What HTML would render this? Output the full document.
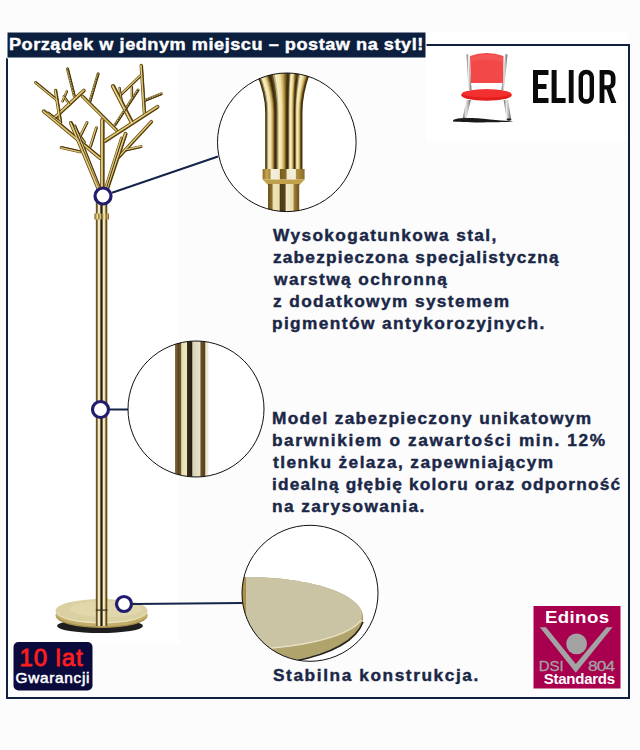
<!DOCTYPE html>
<html><head><meta charset="utf-8">
<style>
html,body{margin:0;padding:0;width:640px;height:750px;overflow:hidden;background:#fcfcfc;}
svg{position:absolute;left:0;top:0;display:block}
text{font-family:"Liberation Sans",sans-serif;}
</style></head>
<body>
<svg width="640" height="750" viewBox="0 0 640 750">
<defs>
 <linearGradient id="pole" x1="0" x2="1" y1="0" y2="0">
  <stop offset="0" stop-color="#8a7440"/>
  <stop offset="0.08" stop-color="#5e4a20"/>
  <stop offset="0.17" stop-color="#a89058"/>
  <stop offset="0.23" stop-color="#f2ead0"/>
  <stop offset="0.36" stop-color="#ece2b4"/>
  <stop offset="0.42" stop-color="#4a3c20"/>
  <stop offset="0.5" stop-color="#1e1810"/>
  <stop offset="0.57" stop-color="#6a5a38"/>
  <stop offset="0.64" stop-color="#f6f0d0"/>
  <stop offset="0.78" stop-color="#e8dcaa"/>
  <stop offset="0.86" stop-color="#7a5e28"/>
  <stop offset="0.94" stop-color="#5a4418"/>
  <stop offset="1" stop-color="#8a7440"/>
 </linearGradient>
 <linearGradient id="pole2" x1="0" x2="1" y1="0" y2="0">
  <stop offset="0" stop-color="#8a7240"/>
  <stop offset="0.1" stop-color="#5a4525"/>
  <stop offset="0.17" stop-color="#6a5530"/>
  <stop offset="0.2" stop-color="#e8e0b0"/>
  <stop offset="0.35" stop-color="#f0e8c0"/>
  <stop offset="0.37" stop-color="#3a2c18"/>
  <stop offset="0.5" stop-color="#251c10"/>
  <stop offset="0.53" stop-color="#d8d2b8"/>
  <stop offset="0.75" stop-color="#e8e2c8"/>
  <stop offset="0.77" stop-color="#6a5028"/>
  <stop offset="0.88" stop-color="#5a4020"/>
  <stop offset="0.92" stop-color="#e8e4d0"/>
  <stop offset="1" stop-color="#f4f0e0"/>
 </linearGradient>
 <linearGradient id="tube" x1="0" x2="1" y1="0" y2="0">
  <stop offset="0" stop-color="#6a5220"/>
  <stop offset="0.1" stop-color="#b89a48"/>
  <stop offset="0.2" stop-color="#f0e0a0"/>
  <stop offset="0.3" stop-color="#8a6e30"/>
  <stop offset="0.4" stop-color="#e8d890"/>
  <stop offset="0.5" stop-color="#5a4418"/>
  <stop offset="0.6" stop-color="#d8c078"/>
  <stop offset="0.7" stop-color="#f2e6b0"/>
  <stop offset="0.8" stop-color="#7a6028"/>
  <stop offset="0.9" stop-color="#c8ac60"/>
  <stop offset="1" stop-color="#6a5220"/>
 </linearGradient>
 <linearGradient id="bundle" x1="256" x2="311" y1="0" y2="0" gradientUnits="userSpaceOnUse">
  <stop offset="0" stop-color="#6a5020"/>
  <stop offset="0.176" stop-color="#5a4418"/>
  <stop offset="0.2" stop-color="#8a7030"/>
  <stop offset="0.23" stop-color="#f4ecc4"/>
  <stop offset="0.33" stop-color="#e8dcb0"/>
  <stop offset="0.35" stop-color="#3a2c10"/>
  <stop offset="0.4" stop-color="#4a3818"/>
  <stop offset="0.43" stop-color="#e8dca0"/>
  <stop offset="0.5" stop-color="#f6eec8"/>
  <stop offset="0.56" stop-color="#c8b070"/>
  <stop offset="0.59" stop-color="#4a3818"/>
  <stop offset="0.62" stop-color="#3a2c10"/>
  <stop offset="0.64" stop-color="#c8a850"/>
  <stop offset="0.69" stop-color="#b89840"/>
  <stop offset="0.71" stop-color="#4a3818"/>
  <stop offset="0.75" stop-color="#4a3818"/>
  <stop offset="0.77" stop-color="#f0e4b0"/>
  <stop offset="0.81" stop-color="#e0d0a0"/>
  <stop offset="0.83" stop-color="#6a5020"/>
  <stop offset="1" stop-color="#8a7030"/>
 </linearGradient>
 <linearGradient id="tubeg" x1="0" x2="1" y1="0" y2="0">
  <stop offset="0" stop-color="#2e2008"/>
  <stop offset="0.14" stop-color="#5a4414"/>
  <stop offset="0.32" stop-color="#f8f0c8"/>
  <stop offset="0.55" stop-color="#f0e2a8"/>
  <stop offset="0.74" stop-color="#c4a24a"/>
  <stop offset="0.9" stop-color="#5a4414"/>
  <stop offset="1" stop-color="#2e2008"/>
 </linearGradient>
 <linearGradient id="collar" x1="0" x2="1" y1="0" y2="0">
  <stop offset="0" stop-color="#8a6c28"/>
  <stop offset="0.1" stop-color="#c8a850"/>
  <stop offset="0.18" stop-color="#a88838"/>
  <stop offset="0.2" stop-color="#f4f0e0"/>
  <stop offset="0.4" stop-color="#f0ead0"/>
  <stop offset="0.42" stop-color="#7a5c20"/>
  <stop offset="0.56" stop-color="#8a6c28"/>
  <stop offset="0.58" stop-color="#f0ead0"/>
  <stop offset="0.78" stop-color="#f4f0e0"/>
  <stop offset="0.8" stop-color="#b09040"/>
  <stop offset="1" stop-color="#8a6c28"/>
 </linearGradient>
 <linearGradient id="lower" x1="0" x2="1" y1="0" y2="0">
  <stop offset="0" stop-color="#6a5020"/>
  <stop offset="0.12" stop-color="#8a7030"/>
  <stop offset="0.18" stop-color="#f0e6b8"/>
  <stop offset="0.36" stop-color="#e8dca8"/>
  <stop offset="0.39" stop-color="#4a3818"/>
  <stop offset="0.55" stop-color="#5a4418"/>
  <stop offset="0.58" stop-color="#f2ead0"/>
  <stop offset="0.8" stop-color="#e8dca8"/>
  <stop offset="0.84" stop-color="#a08030"/>
  <stop offset="1" stop-color="#6a5020"/>
 </linearGradient>
 <linearGradient id="chrome" x1="0" x2="1" y1="0" y2="0">
  <stop offset="0" stop-color="#6a6a6a"/>
  <stop offset="0.4" stop-color="#e8e8e8"/>
  <stop offset="0.7" stop-color="#b0b0b0"/>
  <stop offset="1" stop-color="#5a5a5a"/>
 </linearGradient>
 <clipPath id="c1"><circle cx="286.8" cy="142.3" r="69.3"/></clipPath>
 <clipPath id="c2"><circle cx="196" cy="409" r="68"/></clipPath>
 <clipPath id="c3"><circle cx="310" cy="593.3" r="68"/></clipPath>
</defs>

<!-- white regions -->
<rect x="8" y="57" width="171" height="586" fill="#ffffff"/>
<rect x="426" y="32" width="202" height="109" fill="#ffffff"/>

<!-- border -->
<path d="M420 45 H629 V698 H7 V57.5" fill="none" stroke="#0f2040" stroke-width="2"/>
<rect x="6.5" y="31.5" width="420" height="27" fill="#ffffff"/>
<!-- title bar -->
<rect x="7.5" y="32.5" width="418" height="25" fill="#0c1f3f"/>
<g font-size="16.5" font-weight="bold" fill="#ffffff" stroke="#ffffff" stroke-width="0.4"><text transform="translate(8.90,49.6) scale(1.1,1)" x="0" y="0" letter-spacing="0.484">Porządek w jednym miejscu – postaw na styl!</text></g>

<!-- stand -->
<g id="tree">
<line x1="35.6" y1="82.5" x2="56.9" y2="100" stroke="#6e5418" stroke-width="3.0" stroke-linecap="round"/>
<line x1="67.5" y1="68.8" x2="74.4" y2="96.3" stroke="#6e5418" stroke-width="3.0" stroke-linecap="round"/>
<line x1="98.1" y1="73.8" x2="90" y2="101.3" stroke="#6e5418" stroke-width="3.0" stroke-linecap="round"/>
<line x1="83.8" y1="90.6" x2="54.4" y2="118.1" stroke="#6e5418" stroke-width="4.0" stroke-linecap="round"/>
<line x1="82.5" y1="96.3" x2="116.3" y2="130" stroke="#6e5418" stroke-width="3.5" stroke-linecap="round"/>
<line x1="55.6" y1="90.6" x2="60.6" y2="122.5" stroke="#6e5418" stroke-width="3.5" stroke-linecap="round"/>
<line x1="66.9" y1="91.3" x2="62.5" y2="101.3" stroke="#6e5418" stroke-width="2.5" stroke-linecap="round"/>
<line x1="63.8" y1="96.3" x2="70" y2="105" stroke="#6e5418" stroke-width="2.5" stroke-linecap="round"/>
<line x1="43.8" y1="111.3" x2="100" y2="158" stroke="#6e5418" stroke-width="4.0" stroke-linecap="round"/>
<line x1="70.6" y1="122.6" x2="84.4" y2="142.3" stroke="#6e5418" stroke-width="3.0" stroke-linecap="round"/>
<line x1="87" y1="122.6" x2="78.4" y2="139.8" stroke="#6e5418" stroke-width="3.0" stroke-linecap="round"/>
<line x1="96.4" y1="127.7" x2="90.4" y2="146.6" stroke="#6e5418" stroke-width="3.0" stroke-linecap="round"/>
<line x1="141.3" y1="65.6" x2="144.4" y2="112.5" stroke="#6e5418" stroke-width="3.5" stroke-linecap="round"/>
<line x1="140.6" y1="75.6" x2="120.6" y2="95" stroke="#6e5418" stroke-width="3.0" stroke-linecap="round"/>
<line x1="113.1" y1="86.3" x2="131.9" y2="122.5" stroke="#6e5418" stroke-width="4.5" stroke-linecap="round"/>
<line x1="138.1" y1="90" x2="115" y2="125" stroke="#6e5418" stroke-width="3.0" stroke-linecap="round"/>
<line x1="131.9" y1="86.9" x2="131.9" y2="96.3" stroke="#6e5418" stroke-width="2.5" stroke-linecap="round"/>
<line x1="161.3" y1="93.8" x2="144.4" y2="100.6" stroke="#6e5418" stroke-width="3.0" stroke-linecap="round"/>
<line x1="157.5" y1="106.9" x2="105" y2="141" stroke="#6e5418" stroke-width="4.0" stroke-linecap="round"/>
<line x1="151.4" y1="121.7" x2="118.8" y2="157" stroke="#6e5418" stroke-width="3.5" stroke-linecap="round"/>
<line x1="61.2" y1="147.5" x2="80" y2="151.8" stroke="#6e5418" stroke-width="3.0" stroke-linecap="round"/>
<line x1="141" y1="146.6" x2="125.6" y2="150" stroke="#6e5418" stroke-width="3.0" stroke-linecap="round"/>
<line x1="71" y1="123" x2="99" y2="190" stroke="#6e5418" stroke-width="4.0" stroke-linecap="round"/>
<line x1="125.6" y1="133.8" x2="106.7" y2="190" stroke="#6e5418" stroke-width="4.0" stroke-linecap="round"/>
<line x1="102.4" y1="120" x2="102.4" y2="200" stroke="#6e5418" stroke-width="4.5" stroke-linecap="round"/>
<line x1="75" y1="126" x2="100.5" y2="190" stroke="#6e5418" stroke-width="3.0" stroke-linecap="round"/>
<line x1="121.5" y1="138" x2="105" y2="190" stroke="#6e5418" stroke-width="3.0" stroke-linecap="round"/>
<line x1="119.5" y1="88" x2="121.5" y2="100" stroke="#6e5418" stroke-width="2.3" stroke-linecap="round"/>
<line x1="48" y1="113" x2="60" y2="122" stroke="#6e5418" stroke-width="3.0" stroke-linecap="round"/>
<line x1="35.6" y1="82.5" x2="56.9" y2="100" stroke="#c8a84e" stroke-width="1.5" stroke-linecap="round"/>
<line x1="67.5" y1="68.8" x2="74.4" y2="96.3" stroke="#c8a84e" stroke-width="1.5" stroke-linecap="round"/>
<line x1="98.1" y1="73.8" x2="90" y2="101.3" stroke="#c8a84e" stroke-width="1.5" stroke-linecap="round"/>
<line x1="83.8" y1="90.6" x2="54.4" y2="118.1" stroke="#c8a84e" stroke-width="2.1" stroke-linecap="round"/>
<line x1="82.5" y1="96.3" x2="116.3" y2="130" stroke="#c8a84e" stroke-width="1.8" stroke-linecap="round"/>
<line x1="55.6" y1="90.6" x2="60.6" y2="122.5" stroke="#c8a84e" stroke-width="1.8" stroke-linecap="round"/>
<line x1="66.9" y1="91.3" x2="62.5" y2="101.3" stroke="#c8a84e" stroke-width="1.2" stroke-linecap="round"/>
<line x1="63.8" y1="96.3" x2="70" y2="105" stroke="#c8a84e" stroke-width="1.2" stroke-linecap="round"/>
<line x1="43.8" y1="111.3" x2="100" y2="158" stroke="#c8a84e" stroke-width="2.1" stroke-linecap="round"/>
<line x1="70.6" y1="122.6" x2="84.4" y2="142.3" stroke="#c8a84e" stroke-width="1.5" stroke-linecap="round"/>
<line x1="87" y1="122.6" x2="78.4" y2="139.8" stroke="#c8a84e" stroke-width="1.5" stroke-linecap="round"/>
<line x1="96.4" y1="127.7" x2="90.4" y2="146.6" stroke="#c8a84e" stroke-width="1.5" stroke-linecap="round"/>
<line x1="141.3" y1="65.6" x2="144.4" y2="112.5" stroke="#c8a84e" stroke-width="1.8" stroke-linecap="round"/>
<line x1="140.6" y1="75.6" x2="120.6" y2="95" stroke="#c8a84e" stroke-width="1.5" stroke-linecap="round"/>
<line x1="113.1" y1="86.3" x2="131.9" y2="122.5" stroke="#c8a84e" stroke-width="2.4" stroke-linecap="round"/>
<line x1="138.1" y1="90" x2="115" y2="125" stroke="#c8a84e" stroke-width="1.5" stroke-linecap="round"/>
<line x1="131.9" y1="86.9" x2="131.9" y2="96.3" stroke="#c8a84e" stroke-width="1.2" stroke-linecap="round"/>
<line x1="161.3" y1="93.8" x2="144.4" y2="100.6" stroke="#c8a84e" stroke-width="1.5" stroke-linecap="round"/>
<line x1="157.5" y1="106.9" x2="105" y2="141" stroke="#c8a84e" stroke-width="2.1" stroke-linecap="round"/>
<line x1="151.4" y1="121.7" x2="118.8" y2="157" stroke="#c8a84e" stroke-width="1.8" stroke-linecap="round"/>
<line x1="61.2" y1="147.5" x2="80" y2="151.8" stroke="#c8a84e" stroke-width="1.5" stroke-linecap="round"/>
<line x1="141" y1="146.6" x2="125.6" y2="150" stroke="#c8a84e" stroke-width="1.5" stroke-linecap="round"/>
<line x1="71" y1="123" x2="99" y2="190" stroke="#c8a84e" stroke-width="2.1" stroke-linecap="round"/>
<line x1="125.6" y1="133.8" x2="106.7" y2="190" stroke="#c8a84e" stroke-width="2.1" stroke-linecap="round"/>
<line x1="102.4" y1="120" x2="102.4" y2="200" stroke="#c8a84e" stroke-width="2.4" stroke-linecap="round"/>
<line x1="75" y1="126" x2="100.5" y2="190" stroke="#c8a84e" stroke-width="1.5" stroke-linecap="round"/>
<line x1="121.5" y1="138" x2="105" y2="190" stroke="#c8a84e" stroke-width="1.5" stroke-linecap="round"/>
<line x1="119.5" y1="88" x2="121.5" y2="100" stroke="#c8a84e" stroke-width="1.1" stroke-linecap="round"/>
<line x1="48" y1="113" x2="60" y2="122" stroke="#c8a84e" stroke-width="1.5" stroke-linecap="round"/>
<line x1="36.1" y1="81.9" x2="57.4" y2="99.4" stroke="#3e2e0c" stroke-width="0.9" stroke-linecap="round"/>
<line x1="35.4" y1="82.7" x2="56.7" y2="100.2" stroke="#f2e2a4" stroke-width="0.6" stroke-linecap="round"/>
<line x1="68.3" y1="68.6" x2="75.2" y2="96.1" stroke="#3e2e0c" stroke-width="0.9" stroke-linecap="round"/>
<line x1="67.2" y1="68.9" x2="74.1" y2="96.4" stroke="#f2e2a4" stroke-width="0.6" stroke-linecap="round"/>
<line x1="98.9" y1="74.0" x2="90.8" y2="101.5" stroke="#3e2e0c" stroke-width="0.9" stroke-linecap="round"/>
<line x1="97.8" y1="73.7" x2="89.7" y2="101.2" stroke="#f2e2a4" stroke-width="0.6" stroke-linecap="round"/>
<line x1="84.6" y1="91.4" x2="55.2" y2="118.9" stroke="#3e2e0c" stroke-width="0.9" stroke-linecap="round"/>
<line x1="83.5" y1="90.3" x2="54.1" y2="117.8" stroke="#f2e2a4" stroke-width="0.8" stroke-linecap="round"/>
<line x1="83.2" y1="95.6" x2="117.0" y2="129.3" stroke="#3e2e0c" stroke-width="0.9" stroke-linecap="round"/>
<line x1="82.2" y1="96.6" x2="116.0" y2="130.3" stroke="#f2e2a4" stroke-width="0.7" stroke-linecap="round"/>
<line x1="56.5" y1="90.5" x2="61.5" y2="122.4" stroke="#3e2e0c" stroke-width="0.9" stroke-linecap="round"/>
<line x1="55.2" y1="90.7" x2="60.2" y2="122.6" stroke="#f2e2a4" stroke-width="0.7" stroke-linecap="round"/>
<line x1="67.5" y1="91.6" x2="63.1" y2="101.6" stroke="#3e2e0c" stroke-width="0.9" stroke-linecap="round"/>
<line x1="66.7" y1="91.2" x2="62.3" y2="101.2" stroke="#f2e2a4" stroke-width="0.5" stroke-linecap="round"/>
<line x1="64.3" y1="95.9" x2="70.5" y2="104.6" stroke="#3e2e0c" stroke-width="0.9" stroke-linecap="round"/>
<line x1="63.6" y1="96.4" x2="69.8" y2="105.1" stroke="#f2e2a4" stroke-width="0.5" stroke-linecap="round"/>
<line x1="44.5" y1="110.4" x2="100.7" y2="157.1" stroke="#3e2e0c" stroke-width="0.9" stroke-linecap="round"/>
<line x1="43.5" y1="111.6" x2="99.7" y2="158.3" stroke="#f2e2a4" stroke-width="0.8" stroke-linecap="round"/>
<line x1="71.3" y1="122.1" x2="85.1" y2="141.8" stroke="#3e2e0c" stroke-width="0.9" stroke-linecap="round"/>
<line x1="70.4" y1="122.8" x2="84.2" y2="142.5" stroke="#f2e2a4" stroke-width="0.6" stroke-linecap="round"/>
<line x1="87.7" y1="123.0" x2="79.1" y2="140.2" stroke="#3e2e0c" stroke-width="0.9" stroke-linecap="round"/>
<line x1="86.7" y1="122.5" x2="78.1" y2="139.7" stroke="#f2e2a4" stroke-width="0.6" stroke-linecap="round"/>
<line x1="97.2" y1="127.9" x2="91.2" y2="146.8" stroke="#3e2e0c" stroke-width="0.9" stroke-linecap="round"/>
<line x1="96.1" y1="127.6" x2="90.1" y2="146.5" stroke="#f2e2a4" stroke-width="0.6" stroke-linecap="round"/>
<line x1="142.3" y1="65.5" x2="145.4" y2="112.4" stroke="#3e2e0c" stroke-width="0.9" stroke-linecap="round"/>
<line x1="140.9" y1="65.6" x2="144.0" y2="112.5" stroke="#f2e2a4" stroke-width="0.7" stroke-linecap="round"/>
<line x1="141.2" y1="76.2" x2="121.2" y2="95.6" stroke="#3e2e0c" stroke-width="0.9" stroke-linecap="round"/>
<line x1="140.4" y1="75.4" x2="120.4" y2="94.8" stroke="#f2e2a4" stroke-width="0.6" stroke-linecap="round"/>
<line x1="114.2" y1="85.7" x2="133.0" y2="121.9" stroke="#3e2e0c" stroke-width="0.9" stroke-linecap="round"/>
<line x1="112.7" y1="86.5" x2="131.5" y2="122.7" stroke="#f2e2a4" stroke-width="1.0" stroke-linecap="round"/>
<line x1="138.8" y1="90.4" x2="115.7" y2="125.4" stroke="#3e2e0c" stroke-width="0.9" stroke-linecap="round"/>
<line x1="137.8" y1="89.8" x2="114.7" y2="124.8" stroke="#f2e2a4" stroke-width="0.6" stroke-linecap="round"/>
<line x1="132.5" y1="86.9" x2="132.5" y2="96.3" stroke="#3e2e0c" stroke-width="0.9" stroke-linecap="round"/>
<line x1="131.7" y1="86.9" x2="131.7" y2="96.3" stroke="#f2e2a4" stroke-width="0.5" stroke-linecap="round"/>
<line x1="161.6" y1="94.5" x2="144.7" y2="101.3" stroke="#3e2e0c" stroke-width="0.9" stroke-linecap="round"/>
<line x1="161.2" y1="93.5" x2="144.3" y2="100.3" stroke="#f2e2a4" stroke-width="0.6" stroke-linecap="round"/>
<line x1="158.1" y1="107.8" x2="105.6" y2="141.9" stroke="#3e2e0c" stroke-width="0.9" stroke-linecap="round"/>
<line x1="157.3" y1="106.5" x2="104.8" y2="140.6" stroke="#f2e2a4" stroke-width="0.8" stroke-linecap="round"/>
<line x1="152.1" y1="122.4" x2="119.5" y2="157.7" stroke="#3e2e0c" stroke-width="0.9" stroke-linecap="round"/>
<line x1="151.1" y1="121.5" x2="118.5" y2="156.8" stroke="#f2e2a4" stroke-width="0.7" stroke-linecap="round"/>
<line x1="61.4" y1="146.7" x2="80.2" y2="151.0" stroke="#3e2e0c" stroke-width="0.9" stroke-linecap="round"/>
<line x1="61.1" y1="147.8" x2="79.9" y2="152.1" stroke="#f2e2a4" stroke-width="0.6" stroke-linecap="round"/>
<line x1="141.2" y1="147.4" x2="125.8" y2="150.8" stroke="#3e2e0c" stroke-width="0.9" stroke-linecap="round"/>
<line x1="140.9" y1="146.3" x2="125.5" y2="149.7" stroke="#f2e2a4" stroke-width="0.6" stroke-linecap="round"/>
<line x1="72.0" y1="122.6" x2="100.0" y2="189.6" stroke="#3e2e0c" stroke-width="0.9" stroke-linecap="round"/>
<line x1="70.6" y1="123.2" x2="98.6" y2="190.2" stroke="#f2e2a4" stroke-width="0.8" stroke-linecap="round"/>
<line x1="126.7" y1="134.2" x2="107.8" y2="190.4" stroke="#3e2e0c" stroke-width="0.9" stroke-linecap="round"/>
<line x1="125.2" y1="133.7" x2="106.3" y2="189.9" stroke="#f2e2a4" stroke-width="0.8" stroke-linecap="round"/>
<line x1="103.7" y1="120.0" x2="103.7" y2="200.0" stroke="#3e2e0c" stroke-width="0.9" stroke-linecap="round"/>
<line x1="101.9" y1="120.0" x2="101.9" y2="200.0" stroke="#f2e2a4" stroke-width="1.0" stroke-linecap="round"/>
<line x1="75.7" y1="125.7" x2="101.2" y2="189.7" stroke="#3e2e0c" stroke-width="0.9" stroke-linecap="round"/>
<line x1="74.7" y1="126.1" x2="100.2" y2="190.1" stroke="#f2e2a4" stroke-width="0.6" stroke-linecap="round"/>
<line x1="122.3" y1="138.2" x2="105.8" y2="190.2" stroke="#3e2e0c" stroke-width="0.9" stroke-linecap="round"/>
<line x1="121.2" y1="137.9" x2="104.7" y2="189.9" stroke="#f2e2a4" stroke-width="0.6" stroke-linecap="round"/>
<line x1="120.1" y1="87.9" x2="122.1" y2="99.9" stroke="#3e2e0c" stroke-width="0.9" stroke-linecap="round"/>
<line x1="119.3" y1="88.0" x2="121.3" y2="100.0" stroke="#f2e2a4" stroke-width="0.4" stroke-linecap="round"/>
<line x1="48.5" y1="112.4" x2="60.5" y2="121.4" stroke="#3e2e0c" stroke-width="0.9" stroke-linecap="round"/>
<line x1="47.8" y1="113.2" x2="59.8" y2="122.2" stroke="#f2e2a4" stroke-width="0.6" stroke-linecap="round"/>
<line x1="67.5" y1="68.8" x2="74.4" y2="96.3" stroke="#3e3010" stroke-width="1.4" stroke-dasharray="1.5 1" stroke-linecap="butt" opacity="0.8"/>
<line x1="98.1" y1="73.8" x2="90" y2="101.3" stroke="#3e3010" stroke-width="1.4" stroke-dasharray="1.5 1" stroke-linecap="butt" opacity="0.8"/>
<line x1="138.1" y1="90" x2="115" y2="125" stroke="#3e3010" stroke-width="1.4" stroke-dasharray="1.5 1" stroke-linecap="butt" opacity="0.8"/>
<line x1="161.3" y1="93.8" x2="144.4" y2="100.6" stroke="#3e3010" stroke-width="1.4" stroke-dasharray="1.5 1" stroke-linecap="butt" opacity="0.8"/>
</g>
<!-- pole -->
<rect x="95.8" y="200" width="11.6" height="420" fill="url(#pole)"/>
<rect x="94.5" y="213.5" width="14.5" height="6" fill="url(#tube)"/>

<!-- base -->
<ellipse cx="100" cy="626" rx="43" ry="7" fill="#1e1e1e"/>
<ellipse cx="101.6" cy="616" rx="46" ry="12" fill="#a8904e"/>
<ellipse cx="101.6" cy="614.5" rx="46" ry="12" fill="#c4ae6c"/>
<ellipse cx="101.6" cy="611.6" rx="46" ry="11.8" fill="#ece4bc"/>
<ellipse cx="101.6" cy="610.5" rx="46" ry="11.5" fill="#dad0a2"/>
<ellipse cx="106" cy="609" rx="36" ry="8" fill="#e0d7ac"/>
<rect x="95.8" y="598" width="11.6" height="28" fill="url(#pole)"/>
<rect x="95.8" y="609.5" width="11.6" height="1.2" fill="#3a3018"/>
<!-- connection lines -->
<g stroke="#13254a" stroke-width="2">
 <line x1="112" y1="192.7" x2="218" y2="156.5"/>
 <line x1="109" y1="409.5" x2="128" y2="409.5"/>
 <line x1="133" y1="604" x2="243" y2="603"/>
</g>
<!-- markers -->
<g fill="#ffffff" stroke="#221c6e" stroke-width="3.2">
 <circle cx="103" cy="196" r="8"/>
 <circle cx="100.5" cy="409.5" r="8"/>
 <circle cx="124" cy="604" r="7.5"/>
</g>

<!-- circle 1 -->
<g clip-path="url(#c1)">
 <rect x="210" y="70" width="160" height="150" fill="#ffffff"/>
 <path d="M255.65 70 C262.90 86 266.00 98 266.00 112 L266.00 172" fill="none" stroke="#3e2d0c" stroke-width="1.60"/>
 <path d="M256.95 70 C264.00 86 267.01 98 267.01 112 L267.01 172" fill="none" stroke="#634e1e" stroke-width="1.60"/>
 <path d="M258.25 70 C265.09 86 268.02 98 268.02 112 L268.02 172" fill="none" stroke="#bbad82" stroke-width="1.60"/>
 <path d="M259.55 70 C266.19 86 269.04 98 269.04 112 L269.04 172" fill="none" stroke="#f7eec4" stroke-width="1.60"/>
 <path d="M260.85 70 C267.29 86 270.05 98 270.05 112 L270.05 172" fill="none" stroke="#f3e8b6" stroke-width="1.60"/>
 <path d="M262.15 70 C268.38 86 271.06 98 271.06 112 L271.06 172" fill="none" stroke="#f0e2a8" stroke-width="1.60"/>
 <path d="M263.45 70 C269.48 86 272.06 98 272.06 112 L272.06 172" fill="none" stroke="#d9c077" stroke-width="1.60"/>
 <path d="M264.75 70 C270.58 86 273.08 98 273.08 112 L273.08 172" fill="none" stroke="#bd9c47" stroke-width="1.60"/>
 <path d="M266.05 70 C271.67 86 274.09 98 274.09 112 L274.09 172" fill="none" stroke="#7b6125" stroke-width="1.60"/>
 <path d="M267.35 70 C272.77 86 275.10 98 275.10 112 L275.10 172" fill="none" stroke="#44320e" stroke-width="1.60"/>
 <path d="M269.02 70 C273.92 86 276.02 98 276.02 112 L276.02 172" fill="none" stroke="#3e2d0c" stroke-width="2.35"/>
 <path d="M271.07 70 C275.40 86 277.26 98 277.26 112 L277.26 172" fill="none" stroke="#634e1e" stroke-width="2.35"/>
 <path d="M273.12 70 C276.89 86 278.50 98 278.50 112 L278.50 172" fill="none" stroke="#bbad82" stroke-width="2.35"/>
 <path d="M275.18 70 C278.37 86 279.74 98 279.74 112 L279.74 172" fill="none" stroke="#f7eec4" stroke-width="2.35"/>
 <path d="M277.23 70 C279.85 86 280.98 98 280.98 112 L280.98 172" fill="none" stroke="#f3e8b6" stroke-width="2.35"/>
 <path d="M279.27 70 C281.34 86 282.22 98 282.22 112 L282.22 172" fill="none" stroke="#f0e2a8" stroke-width="2.35"/>
 <path d="M281.32 70 C282.82 86 283.46 98 283.46 112 L283.46 172" fill="none" stroke="#d9c077" stroke-width="2.35"/>
 <path d="M283.38 70 C284.30 86 284.70 98 284.70 112 L284.70 172" fill="none" stroke="#bd9c47" stroke-width="2.35"/>
 <path d="M285.43 70 C285.79 86 285.94 98 285.94 112 L285.94 172" fill="none" stroke="#7b6125" stroke-width="2.35"/>
 <path d="M287.48 70 C287.27 86 287.18 98 287.18 112 L287.18 172" fill="none" stroke="#44320e" stroke-width="2.35"/>
 <path d="M288.93 70 C288.25 86 287.96 98 287.96 112 L287.96 172" fill="none" stroke="#3e2d0c" stroke-width="1.15"/>
 <path d="M289.77 70 C289.01 86 288.68 98 288.68 112 L288.68 172" fill="none" stroke="#634e1e" stroke-width="1.15"/>
 <path d="M290.62 70 C289.77 86 289.40 98 289.40 112 L289.40 172" fill="none" stroke="#bbad82" stroke-width="1.15"/>
 <path d="M291.48 70 C290.53 86 290.12 98 290.12 112 L290.12 172" fill="none" stroke="#f7eec4" stroke-width="1.15"/>
 <path d="M292.32 70 C291.29 86 290.84 98 290.84 112 L290.84 172" fill="none" stroke="#f3e8b6" stroke-width="1.15"/>
 <path d="M293.18 70 C292.04 86 291.56 98 291.56 112 L291.56 172" fill="none" stroke="#f0e2a8" stroke-width="1.15"/>
 <path d="M294.02 70 C292.80 86 292.28 98 292.28 112 L292.28 172" fill="none" stroke="#d9c077" stroke-width="1.15"/>
 <path d="M294.88 70 C293.56 86 293.00 98 293.00 112 L293.00 172" fill="none" stroke="#bd9c47" stroke-width="1.15"/>
 <path d="M295.73 70 C294.32 86 293.72 98 293.72 112 L293.72 172" fill="none" stroke="#7b6125" stroke-width="1.15"/>
 <path d="M296.57 70 C295.08 86 294.44 98 294.44 112 L294.44 172" fill="none" stroke="#44320e" stroke-width="1.15"/>
 <path d="M297.70 70 C295.86 86 295.06 98 295.06 112 L295.06 172" fill="none" stroke="#3e2d0c" stroke-width="1.70"/>
 <path d="M299.10 70 C296.79 86 295.80 98 295.80 112 L295.80 172" fill="none" stroke="#634e1e" stroke-width="1.70"/>
 <path d="M300.50 70 C297.72 86 296.52 98 296.52 112 L296.52 172" fill="none" stroke="#bbad82" stroke-width="1.70"/>
 <path d="M301.90 70 C298.65 86 297.25 98 297.25 112 L297.25 172" fill="none" stroke="#f7eec4" stroke-width="1.70"/>
 <path d="M303.30 70 C299.58 86 297.99 98 297.99 112 L297.99 172" fill="none" stroke="#f3e8b6" stroke-width="1.70"/>
 <path d="M304.70 70 C300.51 86 298.71 98 298.71 112 L298.71 172" fill="none" stroke="#f0e2a8" stroke-width="1.70"/>
 <path d="M306.10 70 C301.44 86 299.44 98 299.44 112 L299.44 172" fill="none" stroke="#d9c077" stroke-width="1.70"/>
 <path d="M307.50 70 C302.37 86 300.18 98 300.18 112 L300.18 172" fill="none" stroke="#bd9c47" stroke-width="1.70"/>
 <path d="M308.90 70 C303.30 86 300.90 98 300.90 112 L300.90 172" fill="none" stroke="#7b6125" stroke-width="1.70"/>
 <path d="M310.30 70 C304.23 86 301.63 98 301.63 112 L301.63 172" fill="none" stroke="#44320e" stroke-width="1.70"/>
 <rect x="262.6" y="169" width="42" height="10.5" fill="url(#collar)"/>
 <path d="M262.6 179.5 L304.7 179.5 L299.5 185 L268 185 Z" fill="#c0a048"/>
 <rect x="268" y="184" width="31.2" height="40" fill="url(#lower)"/>
</g>
<circle cx="286.8" cy="142.3" r="69.3" fill="none" stroke="#111" stroke-width="1"/>

<!-- circle 2 -->
<g clip-path="url(#c2)">
 <rect x="120" y="335" width="150" height="150" fill="#ffffff"/>
 <rect x="175" y="335" width="33.5" height="150" fill="url(#pole2)"/>
</g>
<circle cx="196" cy="409" r="68" fill="none" stroke="#111" stroke-width="1"/>

<!-- circle 3 -->
<g clip-path="url(#c3)">
 <rect x="235" y="520" width="150" height="150" fill="#ffffff"/>
 <path d="M236 577 C280 576 325 583 348 597 C360 605 364 612 363 620 C358 640 330 653 295 660 L236 670 Z" fill="#b1a36c"/>
 <path d="M363 622 C356 641 330 654 295 661 L236 671" fill="none" stroke="#2a2418" stroke-width="1.6"/>
 <path d="M236 577 C280 576 325 583 348 597 C360 605 364 613 361 620 C352 632 325 641 290 646 L236 652 Z" fill="#cac3a4"/>
 <path d="M361.5 620 C352 632 325 641 290 646 L236 652" fill="none" stroke="#e6dfc0" stroke-width="1.4"/>
 <rect x="241" y="577" width="5" height="80" fill="#a89048"/>
</g>
<circle cx="310" cy="593.3" r="68" fill="none" stroke="#111" stroke-width="1"/>

<!-- body text -->
<g font-size="16" font-weight="bold" fill="#1a2747" stroke="#1a2747" stroke-width="0.4">
<text transform="translate(273.00,240.5) scale(1.08,1)" x="0" y="0" letter-spacing="1.292">Wysokogatunkowa stal,</text>
<text transform="translate(273.00,262.5) scale(1.08,1)" x="0" y="0" letter-spacing="1.101">zabezpieczona specjalistyczną</text>
<text transform="translate(274.08,284.5) scale(1.08,1)" x="0" y="0" letter-spacing="1.302">warstwą ochronną</text>
<text transform="translate(273.00,306.5) scale(1.08,1)" x="0" y="0" letter-spacing="1.290">z dodatkowym systemem</text>
<text transform="translate(271.92,328.5) scale(1.08,1)" x="0" y="0" letter-spacing="1.311">pigmentów antykorozyjnych.</text>
<text transform="translate(271.92,423.5) scale(1.08,1)" x="0" y="0" letter-spacing="1.244">Model zabezpieczony unikatowym</text>
<text transform="translate(271.92,445.5) scale(1.08,1)" x="0" y="0" letter-spacing="1.494">barwnikiem o zawartości min. 12%</text>
<text transform="translate(273.00,467.5) scale(1.08,1)" x="0" y="0" letter-spacing="1.311">tlenku żelaza, zapewniającym</text>
<text transform="translate(271.92,489.5) scale(1.08,1)" x="0" y="0" letter-spacing="1.116">idealną głębię koloru oraz odporność</text>
<text transform="translate(271.92,511.5) scale(1.08,1)" x="0" y="0" letter-spacing="1.324">na zarysowania.</text>
<text transform="translate(273.00,680.5) scale(1.08,1)" x="0" y="0" letter-spacing="1.466">Stabilna konstrukcja.</text>
</g>

<!-- logo -->
<g id="logo">
 <path d="M453 120.5 C456 117.5 470 117.5 490 119.5 C500 120.5 508 121 514 121.5 C505 122.5 470 123 453 121.5 Z" fill="#1a1a1a"/>
 <path d="M466.5 54.5 L469 54 L471.5 90 L468.5 90 Z" fill="url(#chrome)"/>
 <path d="M505 54 L507.5 54.5 L504 90 L501.5 90 Z" fill="url(#chrome)"/>
 <path d="M470 56 Q486.5 50 503.5 56 L503 83 L471 83 Z" fill="#f24848"/>
 <path d="M471 57 Q486.5 51.5 503 57 L503 62 Q486.5 57 471 62 Z" fill="#f35454"/>
 <path d="M466.4 100 L470.8 100 L466.4 118.5 L462.6 118.5 Z" fill="url(#chrome)"/>
 <path d="M503.6 100 L508 100 L511 118.5 L506.5 118.5 Z" fill="url(#chrome)"/>
 <ellipse cx="464.5" cy="119" rx="2.5" ry="1.2" fill="#222"/>
 <ellipse cx="509" cy="119.5" rx="2.5" ry="1.2" fill="#222"/>
 <ellipse cx="486.5" cy="95" rx="25.3" ry="5.8" fill="#e41c1c"/>
 <ellipse cx="486.5" cy="93.5" rx="24.5" ry="4" fill="#f23030"/>
 <g fill="#0a0a0a">
  <path d="M533 70 H548.5 V75 H538 V84 H546.5 V89 H538 V98 H548.5 V103 H533 Z"/>
  <path d="M551.6 70 H556.6 V98 H565.6 V103 H551.6 Z"/>
  <rect x="568.8" y="70" width="4.8" height="33"/>
  <path fill-rule="evenodd" d="M586.3 69.7 C590.8 69.7 594 73 594 77.5 V95.9 C594 100.4 590.8 103.7 586.3 103.7 C581.8 103.7 578.6 100.4 578.6 95.9 V77.5 C578.6 73 581.8 69.7 586.3 69.7 Z M586.3 74.2 C584.3 74.2 583 75.5 583 77.5 V95.9 C583 97.9 584.3 99.2 586.3 99.2 C588.3 99.2 589.6 97.9 589.6 95.9 V77.5 C589.6 75.5 588.3 74.2 586.3 74.2 Z"/>
  <path fill-rule="evenodd" d="M599.6 70 H608 C612.8 70 615.5 73 615.5 77.5 V82 C615.5 85.5 613.8 87.8 611 88.8 L616.4 103 H611.2 L606.5 89.6 H604.4 V103 H599.6 Z M604.4 74.5 V85.3 H608 C609.8 85.3 610.8 84.3 610.8 82.5 V77.3 C610.8 75.5 609.8 74.5 608 74.5 Z"/>
 </g>
</g>

<!-- 10 lat badge -->
<rect x="13.5" y="642" width="79" height="48.5" rx="5" fill="#0a0a3c"/>
<text transform="translate(19.60,665.5) scale(1.0,1)" x="0" y="0" font-size="24" font-weight="normal" letter-spacing="0.871" fill="#ff1e1e" stroke="#ff1e1e" stroke-width="0.8">10 lat</text>
<text transform="translate(15.60,682.7) scale(1.1,1)" x="0" y="0" font-size="14" font-weight="normal" letter-spacing="0.620" fill="#ffffff" stroke="#ffffff" stroke-width="0.5">Gwarancji</text>
<!-- Edinos badge -->
<rect x="533.5" y="606" width="87" height="82.5" fill="#a8004e"/>
<path d="M539.8 627.3 H546 L575.8 664 L606.5 627.3 H612.5 L575.8 672.7 Z" fill="#a3a3a3"/>
<circle cx="576.6" cy="643.8" r="10.4" fill="#a3a3a3"/>
<text transform="translate(544.90,623.4) scale(1.1,1)" x="0" y="0" font-size="17" font-weight="bold" letter-spacing="0.339" fill="#ffffff">Edinos</text>
<text transform="translate(538.80,671) scale(1.0,1)" x="0" y="0" font-size="15" font-weight="normal" letter-spacing="-0.069" fill="#a3a3a3" stroke="#a3a3a3" stroke-width="0.3">DSI</text>
<text transform="translate(588.00,671) scale(1.15,1)" x="0" y="0" font-size="15" font-weight="normal" letter-spacing="-0.690" fill="#a3a3a3" stroke="#a3a3a3" stroke-width="0.3">804</text>
<text transform="translate(543.70,684.4) scale(1.0,1)" x="0" y="0" font-size="15" font-weight="bold" letter-spacing="-0.239" fill="#ffffff">Standards</text>
</svg>
</body></html>
